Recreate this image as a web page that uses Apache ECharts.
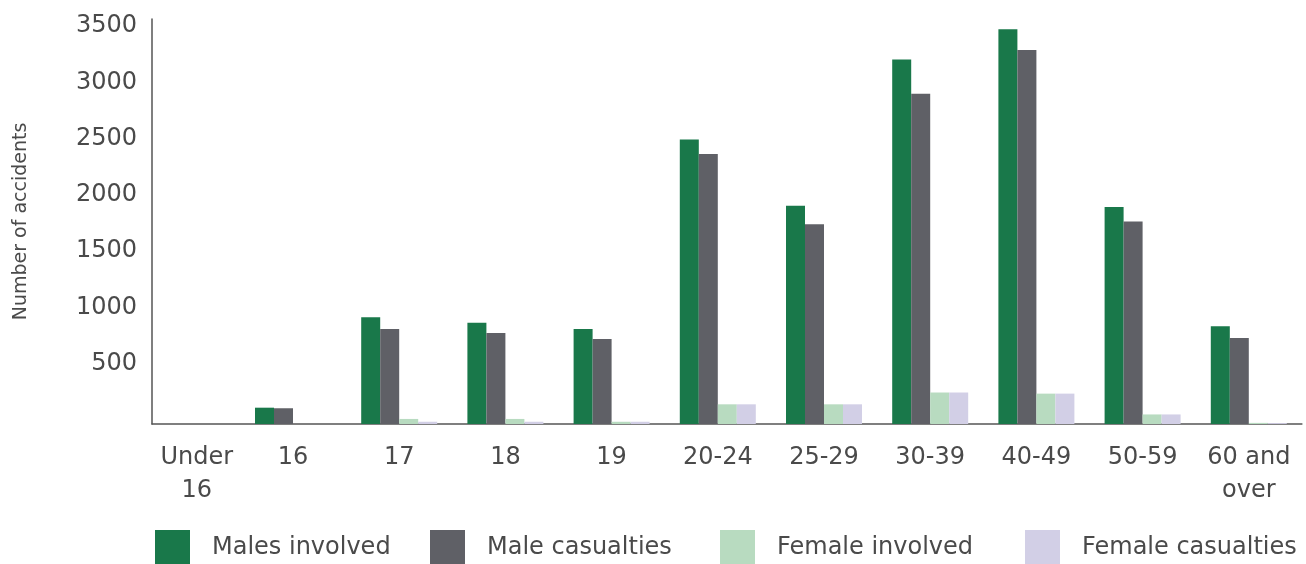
<!DOCTYPE html>
<html>
<head>
<meta charset="utf-8">
<title>Number of accidents by age group</title>
<script src="https://cdn.jsdelivr.net/npm/echarts@6/dist/echarts.min.js"></script>
<style>
  html, body { margin: 0; padding: 0; background: #ffffff; }
  #chart { width: 1306px; height: 564px; }
</style>
</head>
<body>
<div id="chart"></div>
<script>
// Age groups along the horizontal axis
const ageGroups = ['Under\n16', '16', '17', '18', '19', '20-24', '25-29', '30-39', '40-49', '50-59', '60 and\nover'];

// Number of accidents per age group
const malesInvolved    = [0, 145, 950, 900, 845, 2530, 1940, 3240, 3510, 1930, 870];
const maleCasualties   = [0, 140, 845, 810, 755, 2400, 1775, 2935, 3325, 1800, 765];
const femaleInvolved   = [0, 0, 45, 45, 20, 175, 175, 280, 270, 85, 10];
const femaleCasualties = [0, 0, 20, 20, 20, 175, 175, 280, 270, 85, 8];

// Value axis range and tick step
const yMin = 0;
const yMax = 3600;
const yStep = 500;

const seriesNames = ['Males involved', 'Male casualties', 'Female involved', 'Female casualties'];
const seriesColors = ['#19784a', '#5f6066', '#b8dbc0', '#d2cfe6'];
const seriesData = [malesInvolved, maleCasualties, femaleInvolved, femaleCasualties];

const FONT = 'DejaVu Sans';
const TEXT = '#4a4a4a';
const AXIS = '#555555';

const chart = echarts.init(document.getElementById('chart'), null, { renderer: 'canvas' });

const legendLefts = [155, 430, 720, 1025];

const option = {
  animation: false,
  backgroundColor: '#ffffff',
  textStyle: { fontFamily: FONT },
  grid: [
    // bars
    { left: 133.7, right: 4.1, top: 19, bottom: 140, containLabel: false, outerBoundsMode: 'none' },
    // axis frame
    { left: 152, right: 4.1, top: 19, bottom: 140, containLabel: false, outerBoundsMode: 'none' }
  ],
  legend: seriesNames.map((name, i) => ({
    data: [name],
    left: legendLefts[i],
    top: 530,
    padding: 0,
    itemWidth: 35,
    itemHeight: 36,
    itemStyle: { borderWidth: 0 },
    icon: 'rect',
    selectedMode: false,
    textStyle: {
      fontFamily: FONT,
      fontSize: 24,
      color: TEXT,
      padding: [12, 0, 0, 17]
    }
  })),
  xAxis: [
    {
      type: 'category',
      gridIndex: 0,
      data: ageGroups.map((g, i) => i === 0
        ? { value: g, textStyle: { padding: [0, 0, 0, 20] } }
        : g),
      axisLine: { show: false },
      axisTick: { show: false },
      splitLine: { show: false },
      axisLabel: {
        interval: 0,
        margin: 17,
        fontFamily: FONT,
        fontSize: 24,
        lineHeight: 33,
        color: TEXT,
        align: 'center'
      }
    },
    {
      type: 'value',
      gridIndex: 1,
      min: 0,
      max: 1,
      axisLine: { show: true, onZero: false, lineStyle: { color: AXIS, width: 1.5 } },
      axisTick: { show: false },
      axisLabel: { show: false },
      splitLine: { show: false }
    }
  ],
  yAxis: [
    {
      type: 'value',
      gridIndex: 0,
      min: yMin,
      max: yMax,
      interval: yStep,
      show: false,
      splitLine: { show: false }
    },
    {
      type: 'value',
      gridIndex: 1,
      min: yMin,
      max: yMax,
      interval: yStep,
      name: 'Number of accidents',
      nameLocation: 'middle',
      nameRotate: 90,
      nameGap: 121,
      nameTextStyle: { fontFamily: FONT, fontSize: 19, color: TEXT },
      axisLine: { show: true, lineStyle: { color: AXIS, width: 1.5 } },
      axisTick: { show: false },
      splitLine: { show: false },
      axisLabel: {
        margin: 15,
        fontFamily: FONT,
        fontSize: 24,
        color: TEXT,
        verticalAlign: 'bottom',
        lineHeight: 8,
        formatter: v => (v <= yMin || v % yStep !== 0) ? '' : String(v)
      }
    }
  ],
  series: seriesNames.map((name, i) => ({
    name: name,
    type: 'bar',
    xAxisIndex: 0,
    yAxisIndex: 0,
    data: seriesData[i],
    barWidth: 19,
    barGap: '0%',
    itemStyle: { color: seriesColors[i] },
    emphasis: { disabled: true }
  }))
};

chart.setOption(option);
</script>
</body>
</html>
